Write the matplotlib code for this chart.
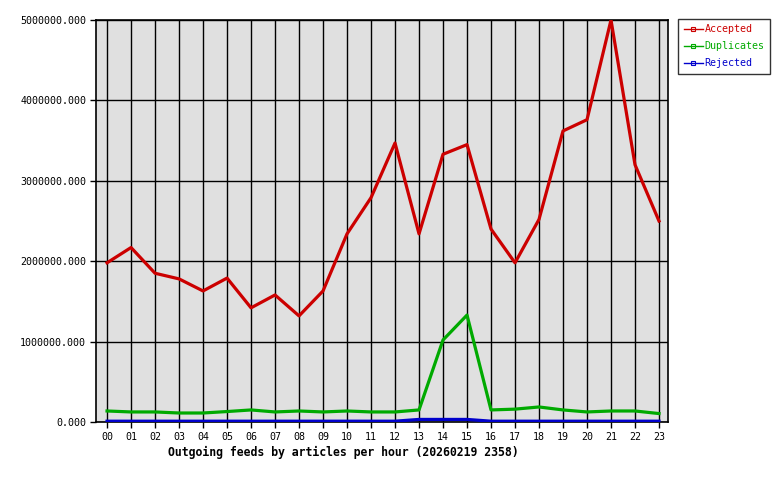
import matplotlib
matplotlib.use('Agg')
import matplotlib.pyplot as plt
from matplotlib.lines import Line2D

hours = ['%02d' % h for h in range(24)]

accepted = [1980000, 2170000, 1850000, 1780000, 1630000, 1790000, 1420000, 1580000,
            1320000, 1630000, 2340000, 2790000, 3470000, 2340000, 3330000, 3450000,
            2400000, 1980000, 2520000, 3620000, 3760000, 5000000, 3200000, 2500000]
duplicates = [137000, 125000, 125000, 112000, 112000, 130000, 150000, 125000,
              137000, 125000, 137000, 125000, 125000, 150000, 1020000, 1330000,
              150000, 160000, 187000, 150000, 125000, 137000, 137000, 105000]
rejected = [10000, 10000, 10000, 10000, 10000, 10000, 10000, 10000,
            10000, 10000, 10000, 10000, 10000, 32000, 32000, 32000,
            10000, 10000, 10000, 10000, 10000, 10000, 10000, 10000]

yticks = [0, 1000000, 2000000, 3000000, 4000000, 5000000]
colors = ['#cc0000', '#00aa00', '#0000cc']
names = ['Accepted', 'Duplicates', 'Rejected']

plt.rcParams['font.family'] = ['DejaVu Sans Mono']

fig = plt.figure(figsize=(7.8, 4.8), dpi=100)
ax = fig.add_axes([96/780, 58/480, 572/780, 402/480])
ax.set_facecolor('#e0e0e0')

x = list(range(len(hours)))
for series, c, n in zip([accepted, duplicates, rejected], colors, names):
    ax.plot(x, series, color=c, lw=2.3, label=n, zorder=3)

ax.set_xlim(-0.46, 23.375)
ax.set_ylim(0, 5000000)
ax.set_xticks(x)
ax.set_xticklabels(hours, fontsize=7.2)
ax.set_yticks(yticks)
ax.set_yticklabels(['%.3f' % v for v in yticks], fontsize=7.2)
ax.tick_params(direction='out', length=4, width=1, color='black', pad=3)
ax.grid(True, color='black', lw=1)
ax.set_axisbelow(True)
for s in ax.spines.values():
    s.set_linewidth(1.2)

fig.text(343/780, 1 - 452/480, 'Outgoing feeds by articles per hour (20260219 2358)',
         ha='center', va='center', fontsize=8.3, fontweight='bold')

handles = [Line2D([], [], color=c, lw=1, marker='s', markersize=2.5,
                  markerfacecolor='none', markeredgewidth=0.8) for c in colors]
leg = fig.legend(handles, names,
                 loc='upper left', bbox_to_anchor=(678/780, 1 - 19/480),
                 fontsize=7.2, frameon=True, fancybox=False, edgecolor='black',
                 handlelength=1.9, handletextpad=0.2, borderpad=0.55,
                 labelspacing=0.68, borderaxespad=0, numpoints=1)
leg.get_frame().set_linewidth(1)
for t, c in zip(leg.get_texts(), colors):
    t.set_color(c)

fig.savefig('out.png', dpi=100)
